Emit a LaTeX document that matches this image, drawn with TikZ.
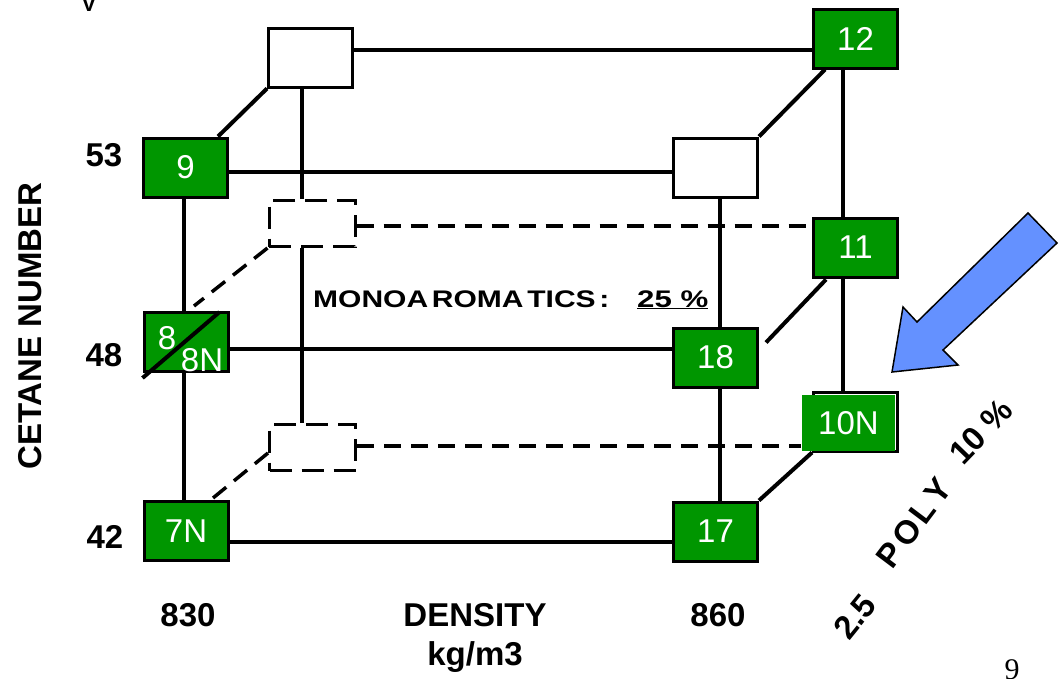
\documentclass[tikz,border=0pt]{standalone}
\usepackage{fontspec}
\usepackage{graphicx}
\setmainfont{Liberation Sans}
\newfontfamily\serifnum{Liberation Serif}
\usetikzlibrary{calc}
\definecolor{boxgreen}{RGB}{0,150,0}
\definecolor{arrowblue}{RGB}{100,145,255}
\newcommand\lK{\kern3pt}
\newcommand\pk{\kern4pt}
\tikzset{
 gbox/.style={draw=black, line width=3pt, fill=boxgreen, text=white, minimum width=84pt, minimum height=59pt, inner sep=0pt, font=\fontsize{33}{33}\selectfont},
 wbox/.style={draw=black, line width=3pt, fill=white, minimum width=84pt, minimum height=59pt, inner sep=0pt},
 dbox/.style={draw=black, line width=3pt, dash pattern=on 22pt off 10pt, minimum width=86pt, minimum height=46pt, inner sep=0pt},
 conn/.style={line width=4pt},
 dconn/.style={line width=3.5pt, dash pattern=on 17pt off 10pt},
 lbl/.style={font=\bfseries\fontsize{33}{33}\selectfont, inner sep=0pt},
 rlbl/.style={font=\bfseries\fontsize{33}{33}\selectfont, inner sep=0pt, rotate=51},
 mlbl/.style={font=\bfseries\fontsize{24}{24}\selectfont, inner sep=0pt, anchor=base west},
 wtxt/.style={text=white, font=\fontsize{33}{33}\selectfont, inner sep=0pt},
}
\begin{document}
\begin{tikzpicture}[x=1pt,y=-1pt]
\useasboundingbox (0,0) rectangle (1062,678);
% boxes
\node[wbox] (bl) at (310.5,57.5) {};
\node[gbox] (n9) at (185.5,167.5) {\raisebox{-4pt}{9}};
\node[gbox] (n12) at (855.5,38.5) {12};
\node[wbox] (fr) at (715.5,167.5) {};
\node[gbox] (n11) at (855.5,247.5) {11};
\node[dbox] (du) at (312,223.5) {};
\node[gbox] (n8) at (186,342) {};
\node[gbox] (n18) at (715.5,357.5) {\raisebox{-7pt}{18}};
\node[wbox, fill=none] (n10) at (855.5,421.5) {};
\node[gbox, draw=none, minimum width=93pt, minimum height=56pt] (n10g) at (848.5,423) {10N};
\node[dbox] (dl) at (312.5,447.5) {};
\node[gbox] (n7) at (186,531) {\raisebox{-3pt}{7N}};
\node[gbox] (n17) at (715.5,531.5) {\raisebox{-8pt}{17}};
\node[wtxt] (t8) at (167,338) {8};
\node[wtxt] (t8n) at (202,360) {8N};
% horizontal connectors
\draw[conn] ($(bl.east)+(0,-7.5)$) coordinate (h1) -- (h1 -| n12.west);
\draw[conn] ($(n9.east)+(0,4.5)$) coordinate (h2) -- (h2 -| fr.west);
\draw[conn] ($(n8.east)+(0,7)$) coordinate (h3) -- (h3 -| n18.west);
\draw[conn] ($(n7.east)+(0,11)$) coordinate (h4) -- (h4 -| n17.west);
\draw[dconn] ($(du.east)+(0,2.5)$) coordinate (h5) -- (h5 -| n11.west);
\draw[dconn] ($(dl.east)+(0,-1.5)$) coordinate (h6) -- (h6 -| n10g.west);
% vertical connectors
\draw[conn] ($(bl.south)+(-8.5,0)$) coordinate (v1) -- (v1 |- du.north);
\draw[conn] ($(du.south)+(-10,0)$) coordinate (v2) -- (v2 |- dl.north);
\draw[conn] ($(n9.south)+(-1.5,0)$) coordinate (v3) -- (v3 |- n8.north);
\draw[conn] ($(n8.south)+(-2,0)$) coordinate (v4) -- (v4 |- n7.north);
\draw[conn] ($(fr.south)+(4.5,0)$) coordinate (v5) -- (v5 |- n18.north);
\draw[conn] ($(n18.south)+(4.5,0)$) coordinate (v6) -- (v6 |- n17.north);
\draw[conn] ($(n12.south)+(-12.5,0)$) coordinate (v7) -- (v7 |- n11.north);
\draw[conn] ($(n11.south)+(-12.5,0)$) coordinate (v8) -- (v8 |- n10.north);
% diagonal connectors
\draw[conn] (bl.south west) -- ($(n9.north east)+(-11,0)$);
\draw[conn] ($(n12.south west)+(13,0)$) -- (fr.north east);
\draw[conn] (n17.north east) -- (n10.south west);
\draw[conn] ($(n11.south west)+(14,1)$) -- ($(n18.north east)+(7,16)$);
\draw[dconn] (du.south west) -- ($(n8.north)+(8,-5)$);
\draw[dconn] ($(dl.south west)+(0,-19)$) -- ($(n7.north)+(27,-2)$);
\draw[conn] ($(n8.north east)+(-10,1)$) -- ($(n8.south west)+(0,5)$);
% axis labels
\node[lbl] (y53) at (104,155) {53};
\node[lbl] (y48) at (104,355) {48};
\node[lbl] (y42) at (105,537) {42};
\node[lbl, rotate=90] (ytitle) at (30,326) {CETANE NUMBER};
\node[lbl] (x830) at (188,615) {830};
\node[lbl] (xtitle) at (475,615) {DENSITY};
\node[lbl] (xunit) at (475,657) {kg/m3};
\node[lbl] (x860) at (718,615) {860};
\node[mlbl] (mono) at (313,307) {\scalebox{1.25}[1]{MONOA\lK ROMA\lK TICS\lK :}};
\node[mlbl] (m25) at (637,307) {\scalebox{1.3}[1]{\underline{25 \%}}};
\node[rlbl] (p25) at (855,617) {2.5};
\node[rlbl, rotate=2] (poly) at (914,523) {P\pk O\pk L\pk Y};
\node[rlbl, rotate=-5] (p10) at (981,432) {10 \%};
\node[font=\bfseries\fontsize{22}{22}\selectfont, inner sep=0pt, anchor=south] (frag) at (89,12) {V};
\node[inner sep=0pt, font=\serifnum\fontsize{30}{30}\selectfont, anchor=north] (pg) at (1012,659) {9};
% arrow
\draw[fill=arrowblue, line width=1.5pt, line join=miter] (1028,213) -- (1057,243) -- (943,350) -- (958,365) -- (892,372) -- (903,307) -- (917,322) -- cycle;
\end{tikzpicture}
\end{document}
